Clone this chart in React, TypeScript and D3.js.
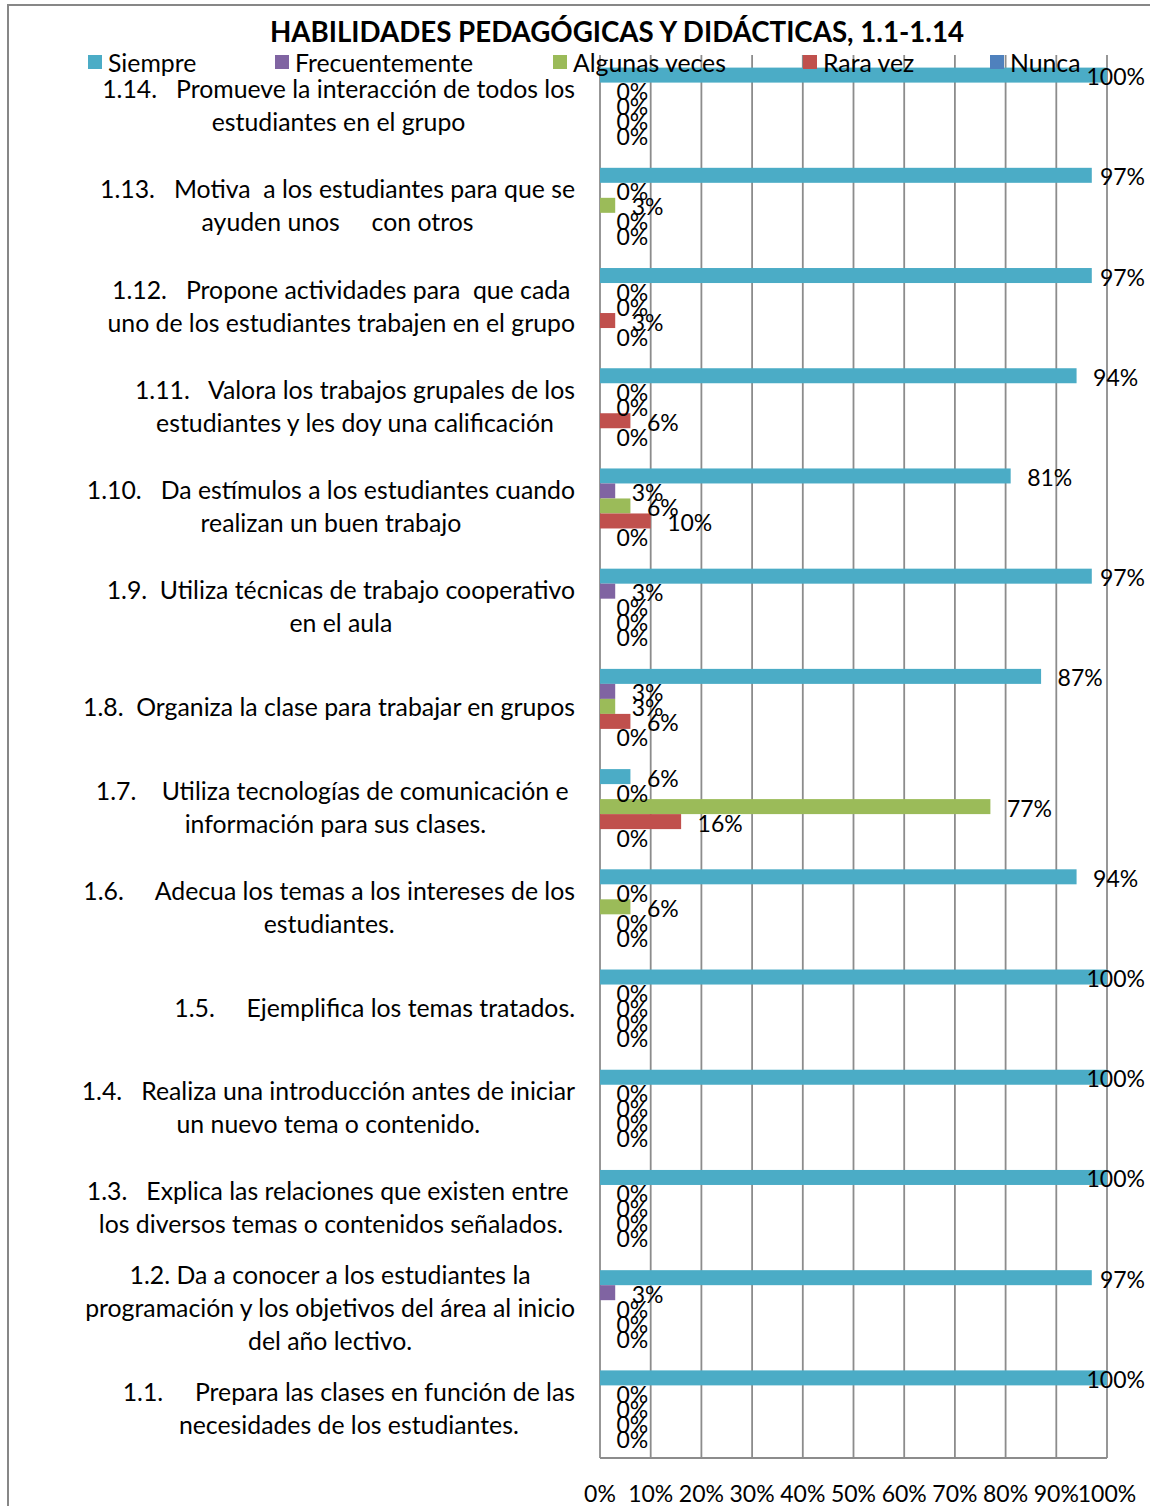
import { useEffect, useRef } from "react";
import * as d3 from "d3";

const categories = ["1.14", "1.13", "1.12", "1.11", "1.10", "1.9", "1.8", "1.7", "1.6", "1.5", "1.4", "1.3", "1.2", "1.1"];

const categoryLines = [
  ["1.14.   Promueve la interacción de todos los", "estudiantes en el grupo"],
  ["1.13.   Motiva  a los estudiantes para que se", "ayuden unos     con otros"],
  ["1.12.   Propone actividades para  que cada", "uno de los estudiantes trabajen en el grupo"],
  ["1.11.   Valora los trabajos grupales de los", "estudiantes y les doy una calificación"],
  ["1.10.   Da estímulos a los estudiantes cuando", "realizan un buen trabajo"],
  ["1.9.  Utiliza técnicas de trabajo cooperativo", "en el aula"],
  ["1.8.  Organiza la clase para trabajar en grupos"],
  ["1.7.    Utiliza tecnologías de comunicación e ", "información para sus clases."],
  ["1.6.     Adecua los temas a los intereses de los", "estudiantes."],
  ["1.5.     Ejemplifica los temas tratados."],
  ["1.4.   Realiza una introducción antes de iniciar", "un nuevo tema o contenido."],
  ["1.3.   Explica las relaciones que existen entre ", "los diversos temas o contenidos señalados."],
  ["1.2. Da a conocer a los estudiantes la", "programación y los objetivos del área al inicio", "del año lectivo."],
  ["1.1.     Prepara las clases en función de las", "necesidades de los estudiantes."],
];

const seriesNames = ["Siempre", "Frecuentemente", "Algunas veces", "Rara vez", "Nunca"];
const seriesColors = ["#4BACC6", "#8064A2", "#9BBB59", "#C0504D", "#4F81BD"];

const siempre = [100, 97, 97, 94, 81, 97, 87, 6, 94, 100, 100, 100, 97, 100];
const frecuentemente = [0, 0, 0, 0, 3, 3, 3, 0, 0, 0, 0, 0, 3, 0];
const algunasVeces = [0, 3, 0, 0, 6, 0, 3, 77, 6, 0, 0, 0, 0, 0];
const raraVez = [0, 0, 3, 6, 10, 0, 6, 16, 0, 0, 0, 0, 0, 0];
const nunca = [0, 0, 0, 0, 0, 0, 0, 0, 0, 0, 0, 0, 0, 0];

const tickValues = [0, 10, 20, 30, 40, 50, 60, 70, 80, 90, 100];

const title = "HABILIDADES PEDAGÓGICAS Y DIDÁCTICAS, 1.1-1.14";

function App() {
  const svgRef = useRef(null);

  useEffect(() => {
    const width = 1150;
    const height = 1506;
    const font = "Lato, 'Open Sans', sans-serif";
    const allSeries = [siempre, frecuentemente, algunasVeces, raraVez, nunca];

    const svg = d3.select(svgRef.current);
    svg.selectAll("*").remove();
    svg.attr("width", width).attr("height", height);

    svg.append("rect").attr("width", width).attr("height", height).attr("fill", "#fff");

    // outer frame
    svg
      .append("rect")
      .attr("x", 8)
      .attr("y", 5)
      .attr("width", 1160)
      .attr("height", 1520)
      .attr("fill", "none")
      .attr("stroke", "#878787")
      .attr("stroke-width", 2);

    const xScale = d3.scaleLinear().domain([0, 100]).range([600, 1107]);
    const yScale = d3.scaleBand().domain(categories).range([55, 1458]).padding(0);
    const inner = d3
      .scaleBand()
      .domain(seriesNames)
      .range([12.6, yScale.bandwidth() - 12.6])
      .padding(0);

    // gridlines
    svg
      .append("g")
      .selectAll("line")
      .data(tickValues)
      .join("line")
      .attr("x1", (d) => xScale(d))
      .attr("x2", (d) => xScale(d))
      .attr("y1", 55)
      .attr("y2", 1458)
      .attr("stroke", "#8c8c8c")
      .attr("stroke-width", 1.8);

    svg
      .append("line")
      .attr("x1", xScale(0))
      .attr("x2", xScale(100))
      .attr("y1", 1458)
      .attr("y2", 1458)
      .attr("stroke", "#8c8c8c")
      .attr("stroke-width", 1.8);

    // x tick labels
    svg
      .append("g")
      .selectAll("text")
      .data(tickValues)
      .join("text")
      .attr("x", (d) => xScale(d))
      .attr("y", 1493)
      .attr("text-anchor", "middle")
      .attr("dominant-baseline", "central")
      .attr("font-family", font)
      .attr("font-size", 23)
      .attr("fill", "#000")
      .text((d) => `${d}%`);

    // bars
    allSeries.forEach((values, s) => {
      const g = svg.append("g");
      g.selectAll("rect")
        .data(values)
        .join("rect")
        .attr("x", xScale(0))
        .attr("y", (d, i) => yScale(categories[i]) + inner(seriesNames[s]))
        .attr("width", (d) => xScale(d) - xScale(0))
        .attr("height", inner.bandwidth())
        .attr("fill", seriesColors[s]);
    });

    // value labels
    allSeries.forEach((values, s) => {
      const g = svg.append("g");
      g.selectAll("text")
        .data(values)
        .join("text")
        .attr("y", (d, i) => yScale(categories[i]) + inner(seriesNames[s]) + inner.bandwidth() / 2 + 1)
        .attr("dominant-baseline", "central")
        .attr("font-family", font)
        .attr("font-size", 23)
        .attr("fill", "#000")
        .text((d) => `${d}%`)
        .each(function (d) {
          const w = this.getComputedTextLength();
          const x = Math.min(xScale(d) + 16.5, 1145 - w);
          d3.select(this).attr("x", x);
        });
    });

    // category labels
    categoryLines.forEach((lines, i) => {
      const cy = yScale(categories[i]) + yScale.bandwidth() / 2;
      const g = svg.append("g");
      const texts = g
        .selectAll("text")
        .data(lines)
        .join("text")
        .attr("y", (d, j) => cy + (j - (lines.length - 1) / 2) * 33)
        .attr("dominant-baseline", "central")
        .attr("text-anchor", "middle")
        .attr("font-family", font)
        .attr("font-size", 24.8)
        .attr("fill", "#000")
        .style("white-space", "pre")
        .text((d) => d);
      let maxW = 0;
      texts.each(function () {
        maxW = Math.max(maxW, this.getComputedTextLength());
      });
      texts.attr("x", 575 - maxW / 2);
    });

    // legend
    const legendX = [88, 275, 553, 803, 990];
    const legend = svg
      .append("g")
      .selectAll("g")
      .data(seriesNames)
      .join("g")
      .attr("transform", (d, i) => `translate(${legendX[i]},62)`);
    legend
      .append("rect")
      .attr("x", 0)
      .attr("y", -7)
      .attr("width", 14)
      .attr("height", 14)
      .attr("fill", (d, i) => seriesColors[i]);
    legend
      .append("text")
      .attr("x", 20)
      .attr("y", 0)
      .attr("dominant-baseline", "central")
      .attr("font-family", font)
      .attr("font-size", 24.8)
      .attr("fill", "#000")
      .text((d) => d);

    // title
    svg
      .append("text")
      .attr("x", 617)
      .attr("y", 31)
      .attr("text-anchor", "middle")
      .attr("dominant-baseline", "central")
      .attr("font-family", font)
      .attr("font-size", 27.7)
      .attr("font-weight", "bold")
      .attr("fill", "#000")
      .text(title);
  }, []);

  return (
    <div style={{ position: "absolute", left: 0, top: 0 }}>
      <svg ref={svgRef} style={{ display: "block" }} />
    </div>
  );
}

export default App;
